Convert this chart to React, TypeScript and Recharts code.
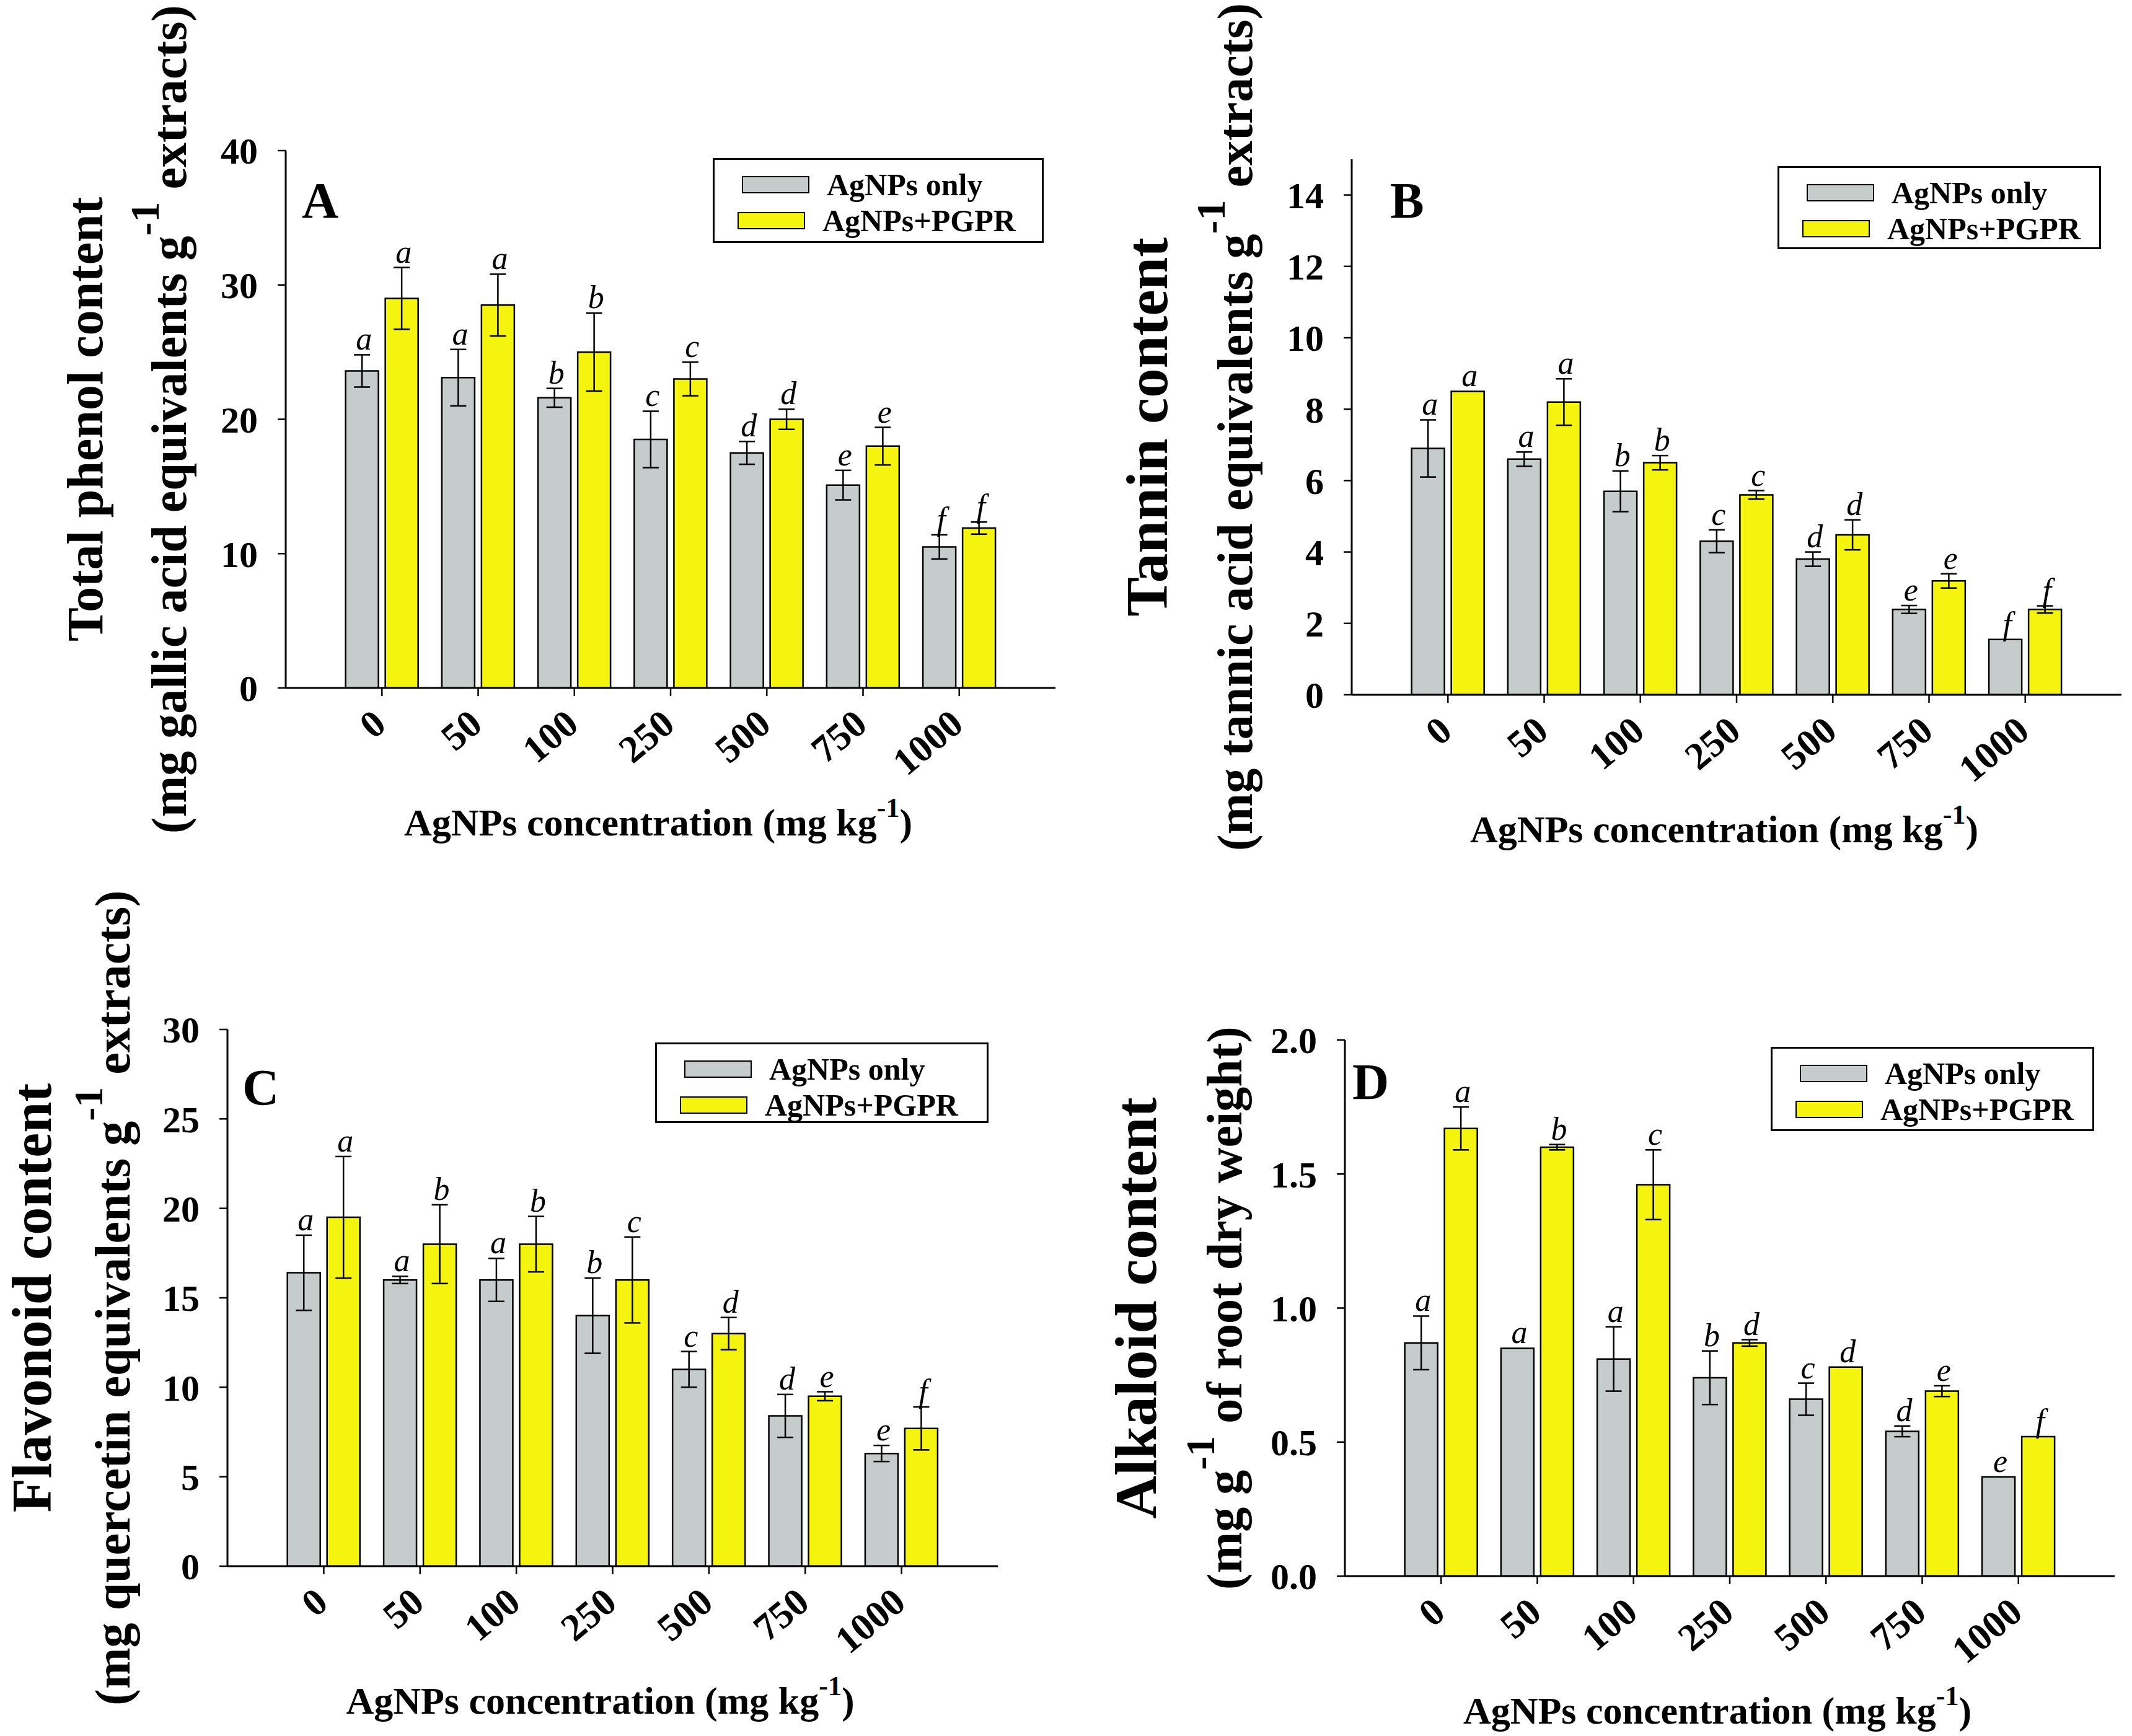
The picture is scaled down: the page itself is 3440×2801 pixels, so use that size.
import React from 'react';
import { BarChart, Bar, XAxis, YAxis, ErrorBar, LabelList, Legend, Label } from 'recharts';

const FONT = "'Liberation Serif', 'Times New Roman', serif";
const GRAY = '#C6CCCB';
const YELLOW = '#F4F40E';

const doses = ['0', '50', '100', '250', '500', '750', '1000'];

// A - total phenol
const phenolOnly = [23.6, 23.1, 21.6, 18.5, 17.5, 15.1, 10.5];
const phenolOnlyErr = [1.2, 2.1, 0.7, 2.1, 0.85, 1.1, 0.9];
const phenolPgpr = [29.0, 28.5, 25.0, 23.0, 20.0, 18.0, 11.9];
const phenolPgprErr = [2.3, 2.3, 2.9, 1.25, 0.75, 1.4, 0.45];
const phenolOnlyLetters = ['a', 'a', 'b', 'c', 'd', 'e', 'f'];
const phenolPgprLetters = ['a', 'a', 'b', 'c', 'd', 'e', 'f'];

// B - tannin
const tanninOnly = [6.9, 6.6, 5.7, 4.3, 3.8, 2.39, 1.55];
const tanninOnlyErr = [0.8, 0.2, 0.57, 0.32, 0.2, 0.11, 0];
const tanninPgpr = [8.5, 8.2, 6.5, 5.6, 4.48, 3.19, 2.39];
const tanninPgprErr = [0, 0.65, 0.2, 0.12, 0.42, 0.2, 0.1];
const tanninOnlyLetters = ['a', 'a', 'b', 'c', 'd', 'e', 'f'];
const tanninPgprLetters = ['a', 'a', 'b', 'c', 'd', 'e', 'f'];

// C - flavonoid
const flavOnly = [16.4, 16.0, 16.0, 14.0, 11.0, 8.4, 6.3];
const flavOnlyErr = [2.1, 0.2, 1.2, 2.1, 1.0, 1.2, 0.45];
const flavPgpr = [19.5, 18.0, 18.0, 16.0, 13.0, 9.5, 7.7];
const flavPgprErr = [3.4, 2.2, 1.55, 2.4, 0.9, 0.25, 1.2];
const flavOnlyLetters = ['a', 'a', 'a', 'b', 'c', 'd', 'e'];
const flavPgprLetters = ['a', 'b', 'b', 'c', 'd', 'e', 'f'];

// D - alkaloid
const alkOnly = [0.87, 0.85, 0.81, 0.74, 0.66, 0.54, 0.37];
const alkOnlyErr = [0.1, 0, 0.12, 0.1, 0.06, 0.02, 0];
const alkPgpr = [1.67, 1.6, 1.46, 0.87, 0.78, 0.69, 0.52];
const alkPgprErr = [0.08, 0.01, 0.13, 0.012, 0, 0.02, 0];
const alkOnlyLetters = ['a', 'a', 'a', 'b', 'c', 'd', 'e'];
const alkPgprLetters = ['a', 'b', 'c', 'd', 'd', 'e', 'f'];

const CW = 1720;
const CH = 1400;
const YW = 150;
const XH = 200;

const panels = [
  {
    id: 'A', ox: 0, oy: 0,
    plot: { left: 461, top: 243, right: 1703, bottom: 1110 },
    domain: [0, 40], ticks: [0, 10, 20, 30, 40], dec: 0,
    only: phenolOnly, onlyErr: phenolOnlyErr, pgpr: phenolPgpr, pgprErr: phenolPgprErr,
    onlyLetters: phenolOnlyLetters, pgprLetters: phenolPgprLetters,
    title: 'Total phenol content', titleSize: 82, t1: -296, t2: -161,
    sub: ['(mg gallic acid equivalents g', ' extracts)'],
    legend: { x: 1150, y: 255, w: 534, h: 137 },
    letter: { x: 487, y: 351 },
  },
  {
    id: 'B', ox: 1720, oy: 0,
    plot: { left: 2181, top: 257, right: 3423, bottom: 1121 },
    domain: [0, 15], ticks: [0, 2, 4, 6, 8, 10, 12, 14], dec: 0,
    only: tanninOnly, onlyErr: tanninOnlyErr, pgpr: tanninPgpr, pgprErr: tanninPgprErr,
    onlyLetters: tanninOnlyLetters, pgprLetters: tanninPgprLetters,
    title: 'Tannin content', titleSize: 95, t1: -298, t2: -161,
    sub: ['(mg tannic acid equivalents g', ' extracts)'],
    legend: { x: 2868, y: 268, w: 522, h: 134 },
    letter: { x: 2243, y: 351 },
  },
  {
    id: 'C', ox: 0, oy: 1400,
    plot: { left: 367, top: 1661, right: 1610, bottom: 2527 },
    domain: [0, 30], ticks: [0, 5, 10, 15, 20, 25, 30], dec: 0,
    only: flavOnly, onlyErr: flavOnlyErr, pgpr: flavPgpr, pgprErr: flavPgprErr,
    onlyLetters: flavOnlyLetters, pgprLetters: flavPgprLetters,
    title: 'Flavonoid content', titleSize: 90, t1: -285, t2: -158,
    sub: ['(mg quercetin equivalents g', ' extracts)'],
    legend: { x: 1057, y: 1682, w: 538, h: 130 },
    letter: { x: 391, y: 1782 },
  },
  {
    id: 'D', ox: 1720, oy: 1400,
    plot: { left: 2170, top: 1678, right: 3412, bottom: 2543 },
    domain: [0, 2], ticks: [0, 0.5, 1, 1.5, 2], dec: 1,
    only: alkOnly, onlyErr: alkOnlyErr, pgpr: alkPgpr, pgprErr: alkPgprErr,
    onlyLetters: alkOnlyLetters, pgprLetters: alkPgprLetters,
    title: 'Alkaloid content', titleSize: 96, t1: -305, t2: -167,
    sub: ['(mg g', ' of root dry weight)'],
    legend: { x: 2857, y: 1689, w: 522, h: 136 },
    letter: { x: 2182, y: 1773 },
  },
];

const letterLabel = (vals: number[], errs: number[], letters: string[]) => (props: any) => {
  const i = props.index;
  const vb = props.viewBox || props;
  const h = Math.abs(vb.height);
  const top = Math.min(vb.y, vb.y + vb.height);
  const k = h / vals[i];
  const yTop = top - errs[i] * k;
  return (
    <text x={vb.x + vb.width / 2 + 3} y={yTop - 8} textAnchor="middle" fontFamily={FONT} fontStyle="italic" fontSize={52} fill="#000">
      {letters[i]}
    </text>
  );
};

function LegendBox({ payload, w, h }: any) {
  const rows = payload || [];
  return (
    <div style={{ position: 'relative', boxSizing: 'border-box', width: w, height: h, border: '3px solid #000', background: '#fff' }}>
      {rows.map((p: any, i: number) => (
        <div key={i} style={{ position: 'absolute', left: i === 0 ? 44 : 37, top: i === 0 ? 22 : 80, height: 36, display: 'flex', alignItems: 'center' }}>
          <div style={{ boxSizing: 'border-box', width: 109, height: 28, background: p.color, border: '2.5px solid #000' }} />
          <span style={{ marginLeft: 28, fontFamily: FONT, fontWeight: 'bold', fontSize: 50, lineHeight: '36px', color: '#000' }}>{p.value}</span>
        </div>
      ))}
    </div>
  );
}

function Panel({ cfg }: any) {
  const { ox, oy, plot } = cfg;
  const margin = {
    top: plot.top - oy,
    right: ox + CW - plot.right,
    bottom: oy + CH - plot.bottom - XH,
    left: plot.left - ox - YW,
  };
  const pl = plot.left - ox;
  const pt = plot.top - oy;
  const pw = plot.right - plot.left;
  const ph = plot.bottom - plot.top;
  const pb = pt + ph;
  const pad = pw / 16;

  const rows = doses.map((d, i) => ({
    dose: d,
    only: cfg.only[i],
    onlyErr: cfg.onlyErr[i],
    onlyLetter: cfg.onlyLetters[i],
    pgpr: cfg.pgpr[i],
    pgprErr: cfg.pgprErr[i],
    pgprLetter: cfg.pgprLetters[i],
  }));

  const xTick = (props: any) => {
    const bx = props.x + 10;
    const by = pb + 64;
    return (
      <text x={bx} y={by} textAnchor="end" transform={`rotate(-40 ${bx} ${by})`} fontFamily={FONT} fontWeight="bold" fontSize={62} fill="#000">
        {props.payload.value}
      </text>
    );
  };

  const xTitle = () => (
    <text x={pl + pw / 2 - 20} y={pb + 238} textAnchor="middle" fontFamily={FONT} fontWeight="bold" fontSize={62} fill="#000">
      AgNPs concentration (mg kg<tspan dy={-30} fontSize={44}>-1</tspan><tspan dy={30}>)</tspan>
    </text>
  );

  const yTitle = () => {
    const cy = pt + ph / 2;
    const x1 = pl + cfg.t1;
    const x2 = pl + cfg.t2;
    return (
      <g>
        <text x={x1} y={cy} textAnchor="middle" transform={`rotate(-90 ${x1} ${cy})`} fontFamily={FONT} fontWeight="bold" fontSize={cfg.titleSize} fill="#000">
          {cfg.title}
        </text>
        <text x={x2} y={cy} textAnchor="middle" transform={`rotate(-90 ${x2} ${cy})`} fontFamily={FONT} fontWeight="bold" fontSize={80} fill="#000">
          {cfg.sub[0]}<tspan dy={-44} fontSize={66}>-1</tspan><tspan dy={44}>{cfg.sub[1]}</tspan>
        </text>
        <text x={cfg.letter.x - ox} y={cfg.letter.y - oy} fontFamily={FONT} fontWeight="bold" fontSize={82} fill="#000">
          {cfg.id}
        </text>
      </g>
    );
  };

  const axisStroke = { stroke: '#000', strokeWidth: 3 };

  return (
    <div style={{ position: 'absolute', left: ox, top: oy, width: CW, height: CH }}>
      <BarChart width={CW} height={CH} data={rows} margin={margin} barSize={53} barGap={11}>
        <XAxis
          dataKey="dose"
          height={XH}
          interval={0}
          padding={{ left: pad, right: pad }}
          tickSize={13}
          tickLine={{ stroke: '#000', strokeWidth: 2.5 }}
          axisLine={axisStroke}
          tick={xTick}
          label={<Label content={xTitle} />}
        />
        <XAxis xAxisId="top" orientation="top" height={0} tick={false} tickLine={false} axisLine={axisStroke} />
        <YAxis
          width={YW}
          domain={cfg.domain}
          ticks={cfg.ticks}
          type="number"
          allowDataOverflow
          tickSize={13}
          tickMargin={32}
          tickLine={{ stroke: '#000', strokeWidth: 2.5 }}
          axisLine={axisStroke}
          tickFormatter={(v: number) => v.toFixed(cfg.dec)}
          tick={{ fontFamily: FONT, fontWeight: 'bold', fontSize: 60, fill: '#000' }}
          label={<Label content={yTitle} />}
        />
        <YAxis yAxisId="right" orientation="right" width={0} tick={false} tickLine={false} axisLine={axisStroke} />
        <Legend
          layout="horizontal"
          verticalAlign="middle"
          align="center"
          wrapperStyle={{ left: cfg.legend.x - ox, top: cfg.legend.y - oy, width: cfg.legend.w, height: cfg.legend.h }}
          content={(p: any) => <LegendBox payload={p.payload} w={cfg.legend.w} h={cfg.legend.h} />}
        />
        <Bar dataKey="only" name="AgNPs only" fill={GRAY} stroke="#000" strokeWidth={2.5} isAnimationActive={false}>
          <ErrorBar dataKey="onlyErr" width={13} stroke="#000" strokeWidth={2.5} />
          <LabelList dataKey="onlyLetter" content={letterLabel(cfg.only, cfg.onlyErr, cfg.onlyLetters)} />
        </Bar>
        <Bar dataKey="pgpr" name="AgNPs+PGPR" fill={YELLOW} stroke="#000" strokeWidth={2.5} isAnimationActive={false}>
          <ErrorBar dataKey="pgprErr" width={13} stroke="#000" strokeWidth={2.5} />
          <LabelList dataKey="pgprLetter" content={letterLabel(cfg.pgpr, cfg.pgprErr, cfg.pgprLetters)} />
        </Bar>
      </BarChart>
    </div>
  );
}

export default function App() {
  return (
    <div style={{ position: 'absolute', left: 0, top: 0, width: 3440, height: 2801, background: '#fff', overflow: 'hidden' }}>
      {panels.map((p) => (
        <Panel key={p.id} cfg={p} />
      ))}
    </div>
  );
}
